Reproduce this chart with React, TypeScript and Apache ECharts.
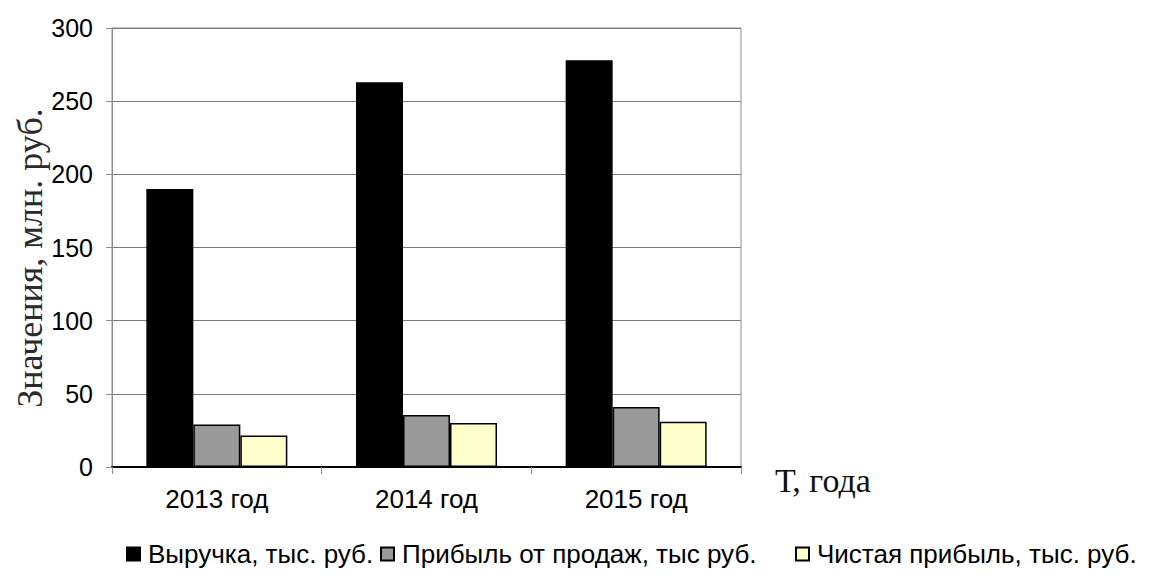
import React, { useEffect, useRef } from "react";
import * as echarts from "echarts";

const categories = ["2013 год", "2014 год", "2015 год"];
const revenue = [190, 263, 278];
const salesProfit = [29, 35.5, 41];
const netProfit = [21.5, 30, 31];
const seriesNames = [
  "Выручка, тыс. руб.",
  "Прибыль от продаж, тыс руб.",
  "Чистая прибыль, тыс. руб.",
];
const yAxisTitle = "Значения, млн. руб.";
const xAxisTitle = "Т, года";

const SANS = "'Liberation Sans', Arial, sans-serif";
const SERIF = "'Liberation Serif', 'Times New Roman', serif";

export default function App() {
  const ref = useRef<HTMLDivElement>(null);

  useEffect(() => {
    if (!ref.current) return;
    const chart = echarts.init(ref.current, undefined, { renderer: "svg" });

    const legendBase = {
      top: 536,
      itemWidth: 13,
      itemHeight: 13,
      itemGap: 0,
      icon: "rect",
      textStyle: { fontFamily: SANS, fontSize: 26, color: "#000", padding: [0, 0, 0, 3] },
    };

    chart.setOption({
      animation: false,
      backgroundColor: "#fff",
      grid: {
        left: 112,
        right: 408,
        top: 28,
        bottom: 114,
        show: true,
        borderColor: "#8c8c8c",
        borderWidth: 1,
      },
      legend: [
        { ...legendBase, left: 121, data: [seriesNames[0]] },
        { ...legendBase, left: 375, data: [seriesNames[1]] },
        { ...legendBase, left: 790, data: [seriesNames[2]] },
      ],
      xAxis: {
        type: "category",
        data: categories,
        name: xAxisTitle,
        nameLocation: "end",
        nameGap: 34,
        nameTextStyle: {
          fontFamily: SERIF,
          fontSize: 34,
          color: "#111",
          align: "left",
          verticalAlign: "top",
          lineHeight: 26,
        },
        axisLine: { lineStyle: { color: "#000", width: 2 } },
        axisTick: { show: true, length: 7, lineStyle: { color: "#8c8c8c" } },
        axisLabel: { fontFamily: SANS, fontSize: 26, color: "#000", margin: 19 },
      },
      yAxis: {
        type: "value",
        min: 0,
        max: 300,
        interval: 50,
        axisLine: { show: true, lineStyle: { color: "#8c8c8c", width: 1 } },
        axisTick: { show: true, length: 6, lineStyle: { color: "#8c8c8c" } },
        axisLabel: { fontFamily: SANS, fontSize: 25, color: "#000", margin: 19 },
        splitLine: { show: true, lineStyle: { color: "#7a7a7a", width: 1 } },
      },
      graphic: [
        {
          type: "text",
          x: 30,
          y: 258,
          rotation: Math.PI / 2,
          style: {
            text: yAxisTitle,
            fontFamily: SERIF,
            fontSize: 36,
            fill: "#2a2a2a",
            align: "center",
            verticalAlign: "middle",
          },
        },
      ],
      series: [
        {
          name: seriesNames[0],
          type: "bar",
          data: revenue,
          barWidth: 47,
          barGap: "0%",
          itemStyle: { color: "#000", borderColor: "#000", borderWidth: 1.5 },
        },
        {
          name: seriesNames[1],
          type: "bar",
          data: salesProfit,
          barWidth: 47,
          barGap: "0%",
          itemStyle: { color: "#999999", borderColor: "#000", borderWidth: 1.5 },
        },
        {
          name: seriesNames[2],
          type: "bar",
          data: netProfit,
          barWidth: 47,
          barGap: "0%",
          itemStyle: { color: "#ffffcc", borderColor: "#000", borderWidth: 1.5 },
        },
      ],
    });

    return () => chart.dispose();
  }, []);

  return <div ref={ref} style={{ width: 1149, height: 581, margin: -8 }} />;
}
